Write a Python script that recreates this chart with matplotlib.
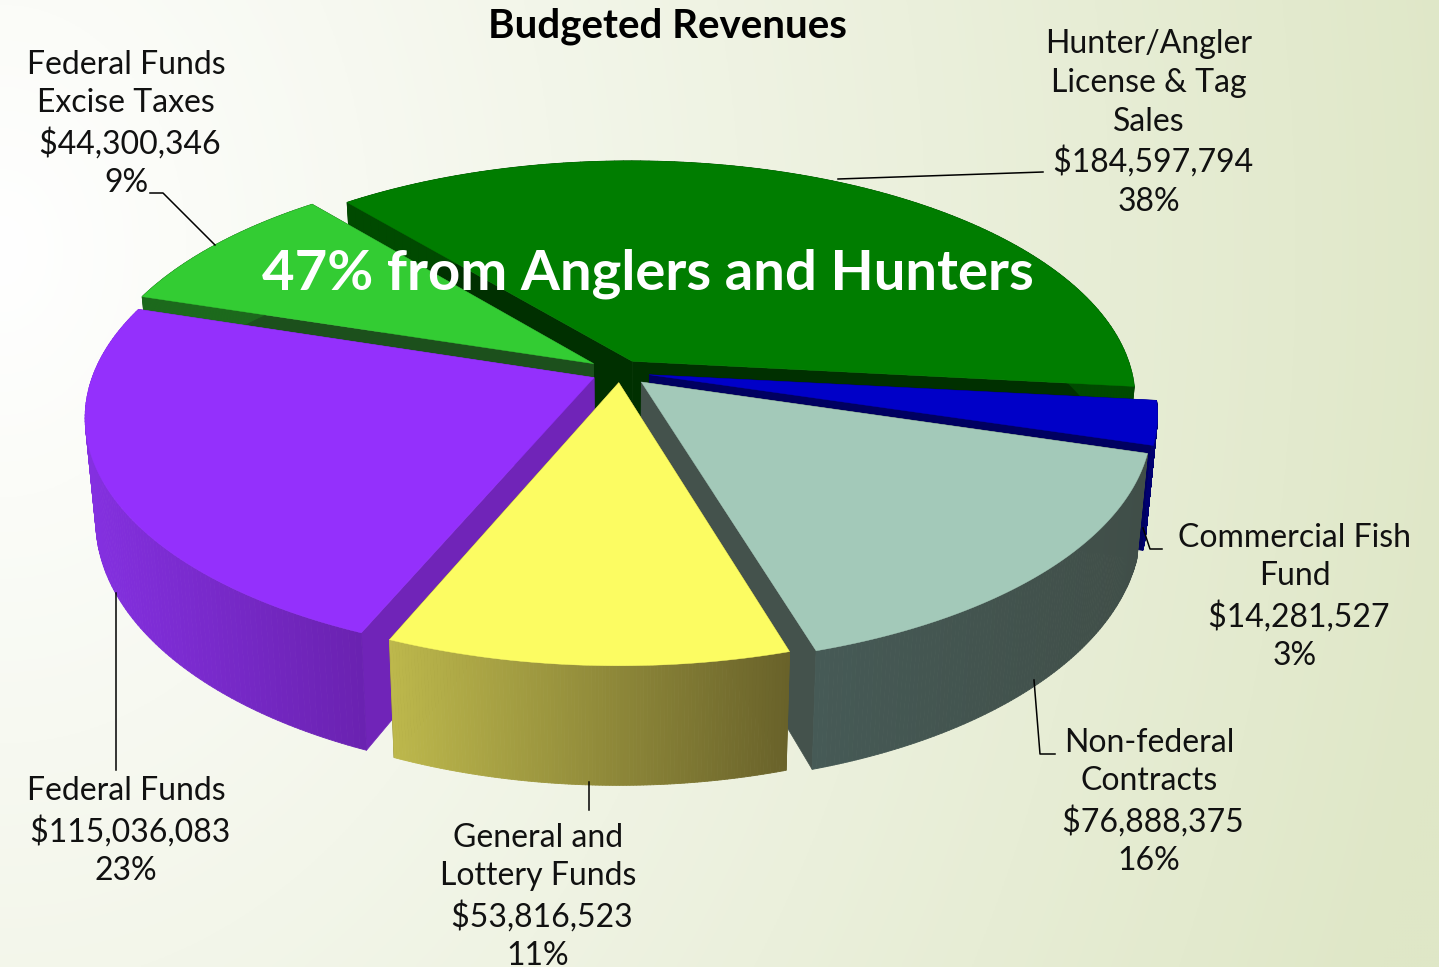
import numpy as np
import matplotlib
matplotlib.use("Agg")
import matplotlib.pyplot as plt
from matplotlib.collections import PolyCollection
from matplotlib.colors import to_rgb

# ---- data
categories = ["Hunter/Angler\nLicense & Tag\nSales", "Commercial Fish\nFund", "Non-federal\nContracts",
              "General and\nLottery Funds", "Federal Funds", "Federal Funds\nExcise Taxes"]
values = [184597794, 14281527, 76888375, 53816523, 115036083, 44300346]
percents = ["38%", "3%", "16%", "11%", "23%", "9%"]
title_text = "Budgeted Revenues"
callout = "47% from Anglers and Hunters"

# ---- styles
top_colors = ["#007d00", "#0000c8", "#a3c9b9", "#fcfc62", "#9430fc", "#33cc33"]
cut_colors = ["#003000", "#000060", "#44524c", "#6b6428", "#7024b8", "#1c501c"]
wall_from = ["#004a00", "#000070", "#465a56", "#bdb84c", "#8430e0", "#1c6a1c"]
wall_to = ["#004a00", "#000070", "#404e48", "#69622a", "#6a22b0", "#1c6a1c"]
explode = [0.052, 0.060, 0.060, 0.045, 0.057, 0.064]
draw_order = [0, 5, 1, 2, 4, 3]
cx, cy = 620, 372
a, b, k = 500, 235, 0.157
h = 100
shrink = 0.98
start = 129.8
font = "Lato"

W, H = 1439, 967
fig = plt.figure(figsize=(W / 100, H / 100), dpi=100)
ax = fig.add_axes([0, 0, 1, 1])
ax.set_xlim(0, W)
ax.set_ylim(H, 0)
ax.axis("off")

# background
yy, xx = np.mgrid[0:H:3, 0:W:3]
t = np.clip(np.hypot(xx - 0, (yy - 250) * 0.75) / 1480, 0, 1)
c0, c1 = np.array(to_rgb("#ffffff")), np.array(to_rgb("#dfe7c7"))
ax.imshow(c0 + (c1 - c0) * t[..., None], extent=(0, W, H, 0), aspect="auto", zorder=0)


def project(u, v, z=0.0):
    d = 1 + k * v
    x = a * u / d
    y = -b * v / d
    if z:
        return cx + x * shrink, cy + y + z / d
    return cx + x, cy + y


frac = np.array(values, float) / np.sum(values)
ends = start - 360 * np.cumsum(frac)
starts = np.r_[start, ends[:-1]]

for zo, i in enumerate(draw_order):
    t0, t1 = starts[i], ends[i]
    mid = np.radians((t0 + t1) / 2)
    ou, ov = explode[i] * np.cos(mid), explode[i] * np.sin(mid)
    th = np.radians(np.linspace(t0, t1, 120))
    u = ou + np.cos(th)
    v = ov + np.sin(th)
    tx, ty = project(u, v)
    bx, by = project(u, v, h)
    ax0, ay0 = project(ou, ov)
    bx0, by0 = project(ou, ov, h)
    z = 2 + zo
    # cut faces
    for j in (0, -1):
        ax.fill([ax0, tx[j], bx[j], bx0], [ay0, ty[j], by[j], by0], color=cut_colors[i], lw=0.5, zorder=z)
    # outer wall with gradient across screen
    polys, cols = [], []
    cf, ct = np.array(to_rgb(wall_from[i])), np.array(to_rgb(wall_to[i]))
    xmin, xmax = tx.min(), tx.max()
    for j in range(len(th) - 1):
        polys.append([(tx[j], ty[j]), (tx[j + 1], ty[j + 1]), (bx[j + 1], by[j + 1]), (bx[j], by[j])])
        f = ((tx[j] + tx[j + 1]) / 2 - xmin) / max(xmax - xmin, 1)
        cols.append(cf + (ct - cf) * f)
    ax.add_collection(PolyCollection(polys, facecolors=cols, edgecolors=cols, linewidths=0.6, zorder=z))
    # top
    ax.fill(np.r_[ax0, tx], np.r_[ay0, ty], color=top_colors[i], lw=0.3, zorder=z)

# leader lines
leaders = [
    ([838, 1043], [179, 172]),
    ([1143, 1150, 1162], [528, 549, 549]),
    ([1034, 1040, 1055], [680, 754, 754]),
    ([589, 589], [782, 810]),
    ([116, 116], [593, 770]),
    ([150, 163, 215], [193, 193, 245]),
]
for lx, ly in leaders:
    ax.plot(lx, ly, color="black", lw=1.1, zorder=30)

label_pos = [(1149, 123), (1295, 597), (1149, 802), (538, 897), (126, 831), (126, 124)]
fs = 23
for name, val, pct, (x, y) in zip(categories, values, percents, label_pos):
    s = f"{name}\n ${val:,}\n{pct}"
    ax.text(x, y, s, ha="center", va="center", fontsize=fs, family=font, color="#111111",
            linespacing=1.36, zorder=31)

ax.text(667, 26, title_text, ha="center", va="center", fontsize=29, family=font, weight="bold", color="black", zorder=31)
ax.text(648, 274, callout, ha="center", va="center", fontsize=40.5, family=font, weight="bold", color="white", zorder=31)

fig.savefig("out.png", dpi=100)
